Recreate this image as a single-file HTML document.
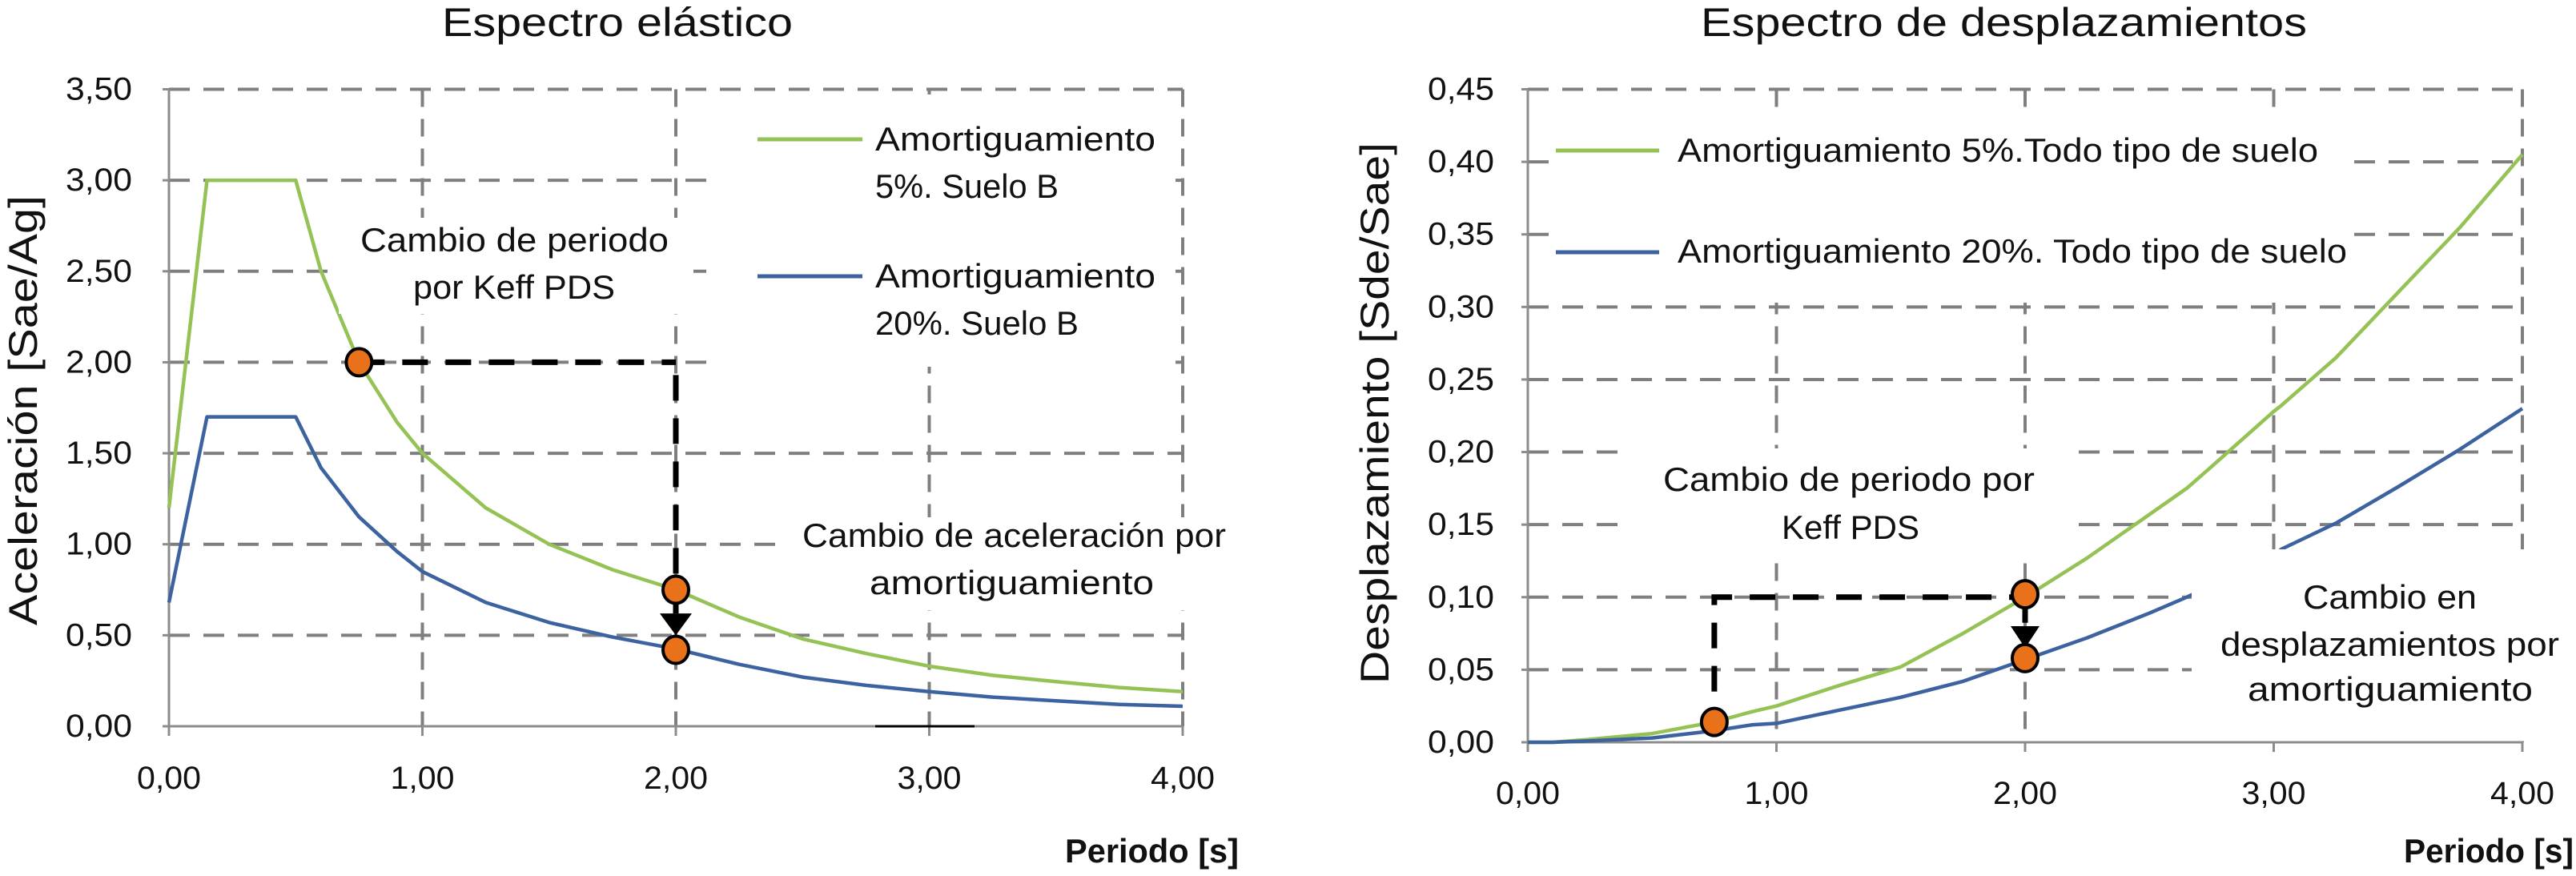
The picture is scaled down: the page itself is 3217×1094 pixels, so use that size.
<!DOCTYPE html>
<html><head><meta charset="utf-8"><style>
html,body{margin:0;padding:0;background:#fff;}
svg{display:block;}
text{font-family:"Liberation Sans",sans-serif;fill:#111;}
</style></head><body>
<svg id="c" width="3217" height="1094" viewBox="0 0 3217 1094" xmlns="http://www.w3.org/2000/svg">
<g id="L"></g>
<g id="R"></g>
</svg>
<script>
// ---- Left chart data ----
const leftPeriods = [0,0.15,0.5,0.6,0.75,0.9,1,1.25,1.5,1.75,2,2.25,2.5,2.75,3,3.25,3.5,3.75,4];
const leftGreen   = [1.2,3,3,2.5,2.0,1.67,1.5,1.2,1.0,0.86,0.75,0.6,0.48,0.4,0.33,0.28,0.245,0.213,0.19];
const leftBlue    = [0.68,1.7,1.7,1.42,1.15,0.96,0.85,0.68,0.57,0.49,0.425,0.34,0.27,0.225,0.19,0.16,0.14,0.12,0.11];
const leftYTicks  = [0,0.5,1,1.5,2,2.5,3,3.5];
const leftYLabels = ["0,00","0,50","1,00","1,50","2,00","2,50","3,00","3,50"];
const xTicks      = [0,1,2,3,4];
const xLabels     = ["0,00","1,00","2,00","3,00","4,00"];
const leftMarkers = [[0.75,2.0],[2.0,0.75],[2.0,0.42]];
// ---- Right chart data ----
const rightPeriods = [0,0.1,0.25,0.5,0.75,0.9,1,1.25,1.5,1.75,2,2.25,2.5,2.65,2.75,3,3.03,3.25,3.5,3.75,4];
const rightGreen   = [0,0,0.002,0.006,0.014,0.021,0.025,0.039,0.052,0.075,0.1,0.127,0.157,0.175,0.19,0.228,0.232,0.265,0.31,0.355,0.405];
const rightBlue    = [0,0,0.001,0.003,0.008,0.012,0.013,0.022,0.031,0.042,0.057,0.072,0.089,0.1,0.108,0.128,0.133,0.151,0.176,0.202,0.23];
const rightYTicks  = [0,0.05,0.1,0.15,0.2,0.25,0.3,0.35,0.4,0.45];
const rightYLabels = ["0,00","0,05","0,10","0,15","0,20","0,25","0,30","0,35","0,40","0,45"];
const rightMarkers = [[0.75,0.014],[2.0,0.102],[2.0,0.058]];

const NS="http://www.w3.org/2000/svg";
function mk(parent,tag,attrs,txt){const e=document.createElementNS(NS,tag);for(const k in attrs)e.setAttribute(k,attrs[k]);if(txt!==undefined)e.textContent=txt;parent.appendChild(e);return e;}

function chart(g,cfg){
  const sx=v=>cfg.x0+(v-0)*(cfg.x1-cfg.x0)/4;
  const sy=v=>cfg.y0-(v)*(cfg.y0-cfg.y1)/cfg.ymax;
  const grid=mk(g,'g',{});
  
  
  cfg.yt.forEach((t,i)=>{ if(i===0) return;
    const l=mk(grid,'line',{x1:sx(0),x2:sx(4),y1:sy(t),y2:sy(t),stroke:'#7f7f7f','stroke-width':4,'stroke-dasharray':'26 17'});
    
    
  });
  xTicks.forEach((t,i)=>{ if(i===0) return;
    const l=mk(grid,'line',{x1:sx(t),x2:sx(t),y1:sy(cfg.ymax),y2:sy(0),stroke:'#7f7f7f','stroke-width':4,'stroke-dasharray':'22 15'});
    
    
  });
  const ax=mk(g,'path',{d:`M${sx(0)},${sy(cfg.ymax)}V${sy(0)}H${sx(4)}`,fill:'none',stroke:'#8c8c8c','stroke-width':3});
  
  
  cfg.yt.forEach(t=>mk(g,'line',{x1:sx(0)-8,x2:sx(0),y1:sy(t),y2:sy(t),stroke:'#8c8c8c','stroke-width':3}));
  xTicks.forEach(t=>mk(g,'line',{x1:sx(t),x2:sx(t),y1:sy(0),y2:sy(0)+12,stroke:'#8c8c8c','stroke-width':3}));
  const ser=(xs,ys,col,name)=>{
    const d=xs.map((x,i)=>(i?'L':'M')+sx(x).toFixed(1)+','+sy(ys[i]).toFixed(1)).join('');
    const p=mk(g,'path',{d:d,fill:'none',stroke:col,'stroke-width':4.5,'stroke-linejoin':'round'});
    
    
  };
  ser(cfg.xs,cfg.green,'#94c255','series-5pct');
  ser(cfg.xs,cfg.blue,'#3c62a0','series-20pct');
  cfg.boxes.forEach(b=>mk(g,'rect',{x:b[0],y:b[1],width:b[2]-b[0],height:b[3]-b[1],fill:'#fff'}));
  cfg.yt.forEach((t,i)=>{
    const tx=mk(g,'text',{x:cfg.ylabRight,y:sy(t)+13,'text-anchor':'end','font-size':40,textLength:83,lengthAdjust:'spacingAndGlyphs'},cfg.yl[i]);
    
    
  });
  xTicks.forEach((t,i)=>{
    const tx=mk(g,'text',{x:sx(t),y:cfg.xlabY,'text-anchor':'middle','font-size':40,textLength:80,lengthAdjust:'spacingAndGlyphs'},xLabels[i]);
    
    
  });
  const bp=mk(g,'path',{d:cfg.arrowPath(sx,sy),fill:'none',stroke:'#000','stroke-width':7,'stroke-dasharray':'32 22'});
  
  
  const ah=cfg.arrowHead(sx,sy);
  const a=mk(g,'polygon',{points:ah,fill:'#000'});
  
  
  cfg.markers.forEach(m=>{
    const c=mk(g,'ellipse',{cx:sx(m[0]),cy:sy(m[1]),rx:16,ry:17,fill:'#e8711a',stroke:'#000','stroke-width':4});
    
    
  });
  return {sx,sy};
}

const L=document.getElementById('L');
chart(L,{x0:211,x1:1477,y0:907,y1:111.5,ymax:3.5,yt:leftYTicks,yl:leftYLabels,xs:leftPeriods,green:leftGreen,blue:leftBlue,
  boxes:[[897,118,1468,458],[423,272,866,392],[979,646,1540,762]],
  ylabRight:165,xlabY:985,markers:leftMarkers,
  arrowPath:(sx,sy)=>`M${sx(0.75)},${sy(2)}H${sx(2)}M${sx(2)},${sy(1.93)}V${sy(0.62)}`,
  arrowHead:(sx,sy)=>`${sx(2)-20},${sy(0.62)} ${sx(2)+20},${sy(0.62)} ${sx(2)},${sy(0.5)}`});

const R=document.getElementById('R');
chart(R,{x0:1908,x1:3150,y0:927,y1:111.5,ymax:0.45,yt:rightYTicks,yl:rightYLabels,xs:rightPeriods,green:rightGreen,blue:rightBlue,
  boxes:[[1935,140,2938,378],[2031,560,2587,700],[2737,686,3217,920]],
  ylabRight:1866,xlabY:1004,markers:rightMarkers,
  arrowPath:(sx,sy)=>`M${sx(0.75)},${sy(0.035)}V${sy(0.1)}H${sx(2)}M${sx(2)},${sy(0.1)}V${sy(0.08)}`,
  arrowHead:(sx,sy)=>`${sx(2)-18},${sy(0.08)} ${sx(2)+18},${sy(0.08)} ${sx(2)},${sy(0.065)}`});

function T(parent,name,x,y,s,opts){
  const t=mk(parent,'text',Object.assign({x:x,y:y},opts),s);
  
  
  return t;
}
const F=o=>Object.assign({'font-size':42,lengthAdjust:'spacingAndGlyphs'},o);
T(L,'chart-title',552,45,'Espectro elástico',{'font-size':50,textLength:438,lengthAdjust:'spacingAndGlyphs'});
T(L,'y-axis-title',0,0,'Aceleración [Sae/Ag]',{'font-size':50,textLength:537,lengthAdjust:'spacingAndGlyphs',transform:'translate(46,781) rotate(-90)'});
T(L,'x-axis-title',1330,1077,'Periodo [s]',F({'font-weight':'bold',textLength:217}));
let l1=mk(L,'line',{x1:946,x2:1077,y1:174,y2:174,stroke:'#94c255','stroke-width':5});


let l2=mk(L,'line',{x1:946,x2:1077,y1:345,y2:345,stroke:'#3c62a0','stroke-width':5});


T(L,'legend-label-5pct',1093,188,'Amortiguamiento',F({textLength:350}));
T(L,'legend-label-5pct-line2',1093,247,'5%. Suelo B',F({textLength:229}));
T(L,'legend-label-20pct',1093,359,'Amortiguamiento',F({textLength:350}));
T(L,'legend-label-20pct-line2',1093,418,'20%. Suelo B',F({textLength:254}));
T(L,'annotation-period-change',450,314,'Cambio de periodo',F({textLength:385}));
T(L,'annotation-period-change-line2',516,373,'por Keff PDS',F({textLength:252}));
T(L,'annotation-accel-change',1002,683,'Cambio de aceleración por',F({textLength:529}));
T(L,'annotation-accel-change-line2',1086,742,'amortiguamiento',F({textLength:355}));
mk(L,'line',{x1:1093,x2:1217,y1:907,y2:907,stroke:'#000','stroke-width':3});
T(R,'chart-title',2124,45,'Espectro de desplazamientos',{'font-size':50,textLength:757,lengthAdjust:'spacingAndGlyphs'});
T(R,'y-axis-title',0,0,'Desplazamiento [Sde/Sae]',{'font-size':50,textLength:676,lengthAdjust:'spacingAndGlyphs',transform:'translate(1734,854) rotate(-90)'});
T(R,'x-axis-title',3002,1077,'Periodo [s]',F({'font-weight':'bold',textLength:212}));
let r1=mk(R,'line',{x1:1943,x2:2072,y1:188,y2:188,stroke:'#94c255','stroke-width':5});


let r2=mk(R,'line',{x1:1943,x2:2072,y1:315,y2:315,stroke:'#3c62a0','stroke-width':5});


T(R,'legend-label-5pct',2095,202,'Amortiguamiento 5%.Todo tipo de suelo',F({textLength:800}));
T(R,'legend-label-20pct',2095,328,'Amortiguamiento 20%. Todo tipo de suelo',F({textLength:836}));
T(R,'annotation-period-change',2077,613,'Cambio de periodo por',F({textLength:464}));
T(R,'annotation-period-change-line2',2225,673,'Keff PDS',F({textLength:172}));
T(R,'annotation-disp-change',2876,760,'Cambio en',F({textLength:217}));
T(R,'annotation-disp-change-line2',2773,819,'desplazamientos por',F({textLength:423}));
T(R,'annotation-disp-change-line3',2807,875,'amortiguamiento',F({textLength:356}));
</script>
</body></html>
